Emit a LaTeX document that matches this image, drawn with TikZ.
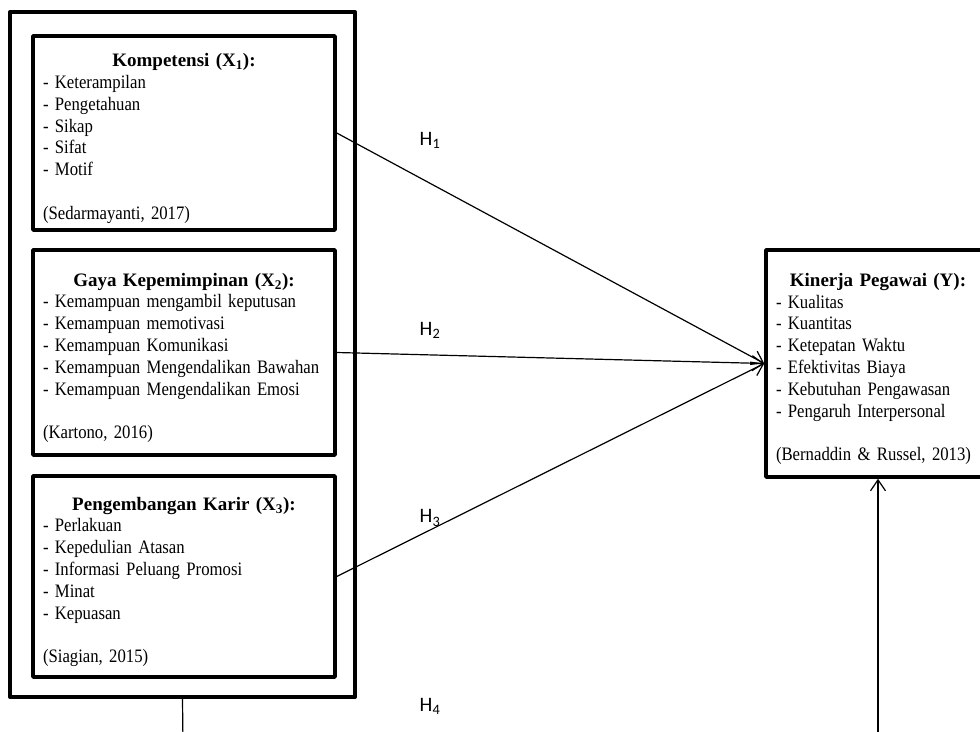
\documentclass[tikz,border=0pt]{standalone}
\usepackage{fontspec}
\setmainfont{Liberation Serif}[FakeStretch=0.88, WordSpace=0.9]
\newfontfamily\titlefont{Liberation Serif}
\newfontfamily\calibri{Carlito}
\usetikzlibrary{arrows.meta}
\tikzset{
	varbox/.style={draw, line width=3.5pt, inner xsep=10pt, inner ysep=0pt,
		text width=#1, font=\fontsize{19}{21.8}\selectfont},
	groupbox/.style={draw, line width=4pt, inner sep=0pt},
	hlabel/.style={font=\calibri\fontsize{20.5}{24}\selectfont, inner sep=0pt},
	path/.style={line width=1.2pt}
}
\newcommand{\boxtitle}[1]{{\centering\titlefont\bfseries\rule{0pt}{24pt}#1\par}\raggedright}
\begin{document}
\begin{tikzpicture}[x=1pt, y=-1pt, line join=round, >={Straight Barb[length=11pt,width=15pt]}]
		\clip (0,0) rectangle (980,731);
		\path 	(182.5,354.5) coordinate (G)
		(184,133) coordinate (A)
		(184,352.5) coordinate (B)
		(184,576.5) coordinate (C)
		(878,363.5) coordinate (D)
		(183,745) coordinate (E)
		(878,745) coordinate (F);
		\node[groupbox, minimum width=345, minimum height=685] (grp) at (G) {};
		\node[varbox=282, minimum height=194] (x1) at (A) {\boxtitle{Kompetensi (X\textsubscript{1}):}
			- Keterampilan\\
			- Pengetahuan\\
			- Sikap\\
			- Sifat\\
			- Motif\\[21.8pt]
			(Sedarmayanti, 2017)};
		\node[varbox=282, minimum height=205] (x2) at (B) {\boxtitle{Gaya Kepemimpinan (X\textsubscript{2}):}
			- Kemampuan mengambil keputusan\\
			- Kemampuan memotivasi\\
			- Kemampuan Komunikasi\\
			- Kemampuan Mengendalikan Bawahan\\
			- Kemampuan Mengendalikan Emosi\\[21.8pt]
			(Kartono, 2016)};
		\node[varbox=282, minimum height=201] (x3) at (C) {\boxtitle{Pengembangan Karir (X\textsubscript{3}):}
			- Perlakuan\\
			- Kepedulian Atasan\\
			- Informasi Peluang Promosi\\
			- Minat\\
			- Kepuasan\\[21.8pt]
			(Siagian, 2015)};
		\node[varbox=204, minimum height=227] (y) at (D) {\boxtitle{Kinerja Pegawai (Y):}
			- Kualitas\\
			- Kuantitas\\
			- Ketepatan Waktu\\
			- Efektivitas Biaya\\
			- Kebutuhan Pengawasan\\
			- Pengaruh Interpersonal\\[21.8pt]
			(Bernaddin \& Russel, 2013)};
		\foreach \x in {x1,x2,x3}
		\draw[path,->] (\x.east) -- (y.west);
		\draw[path] (grp.south) -- (E);
		\draw[path,->] (F) -- (y.south);
		\foreach \n/\yy in {1/140,2/330,3/518,4/706}
		\node[hlabel] (h\n) at (430,\yy) {H\textsubscript{\n}};
	\end{tikzpicture}
\end{document}
